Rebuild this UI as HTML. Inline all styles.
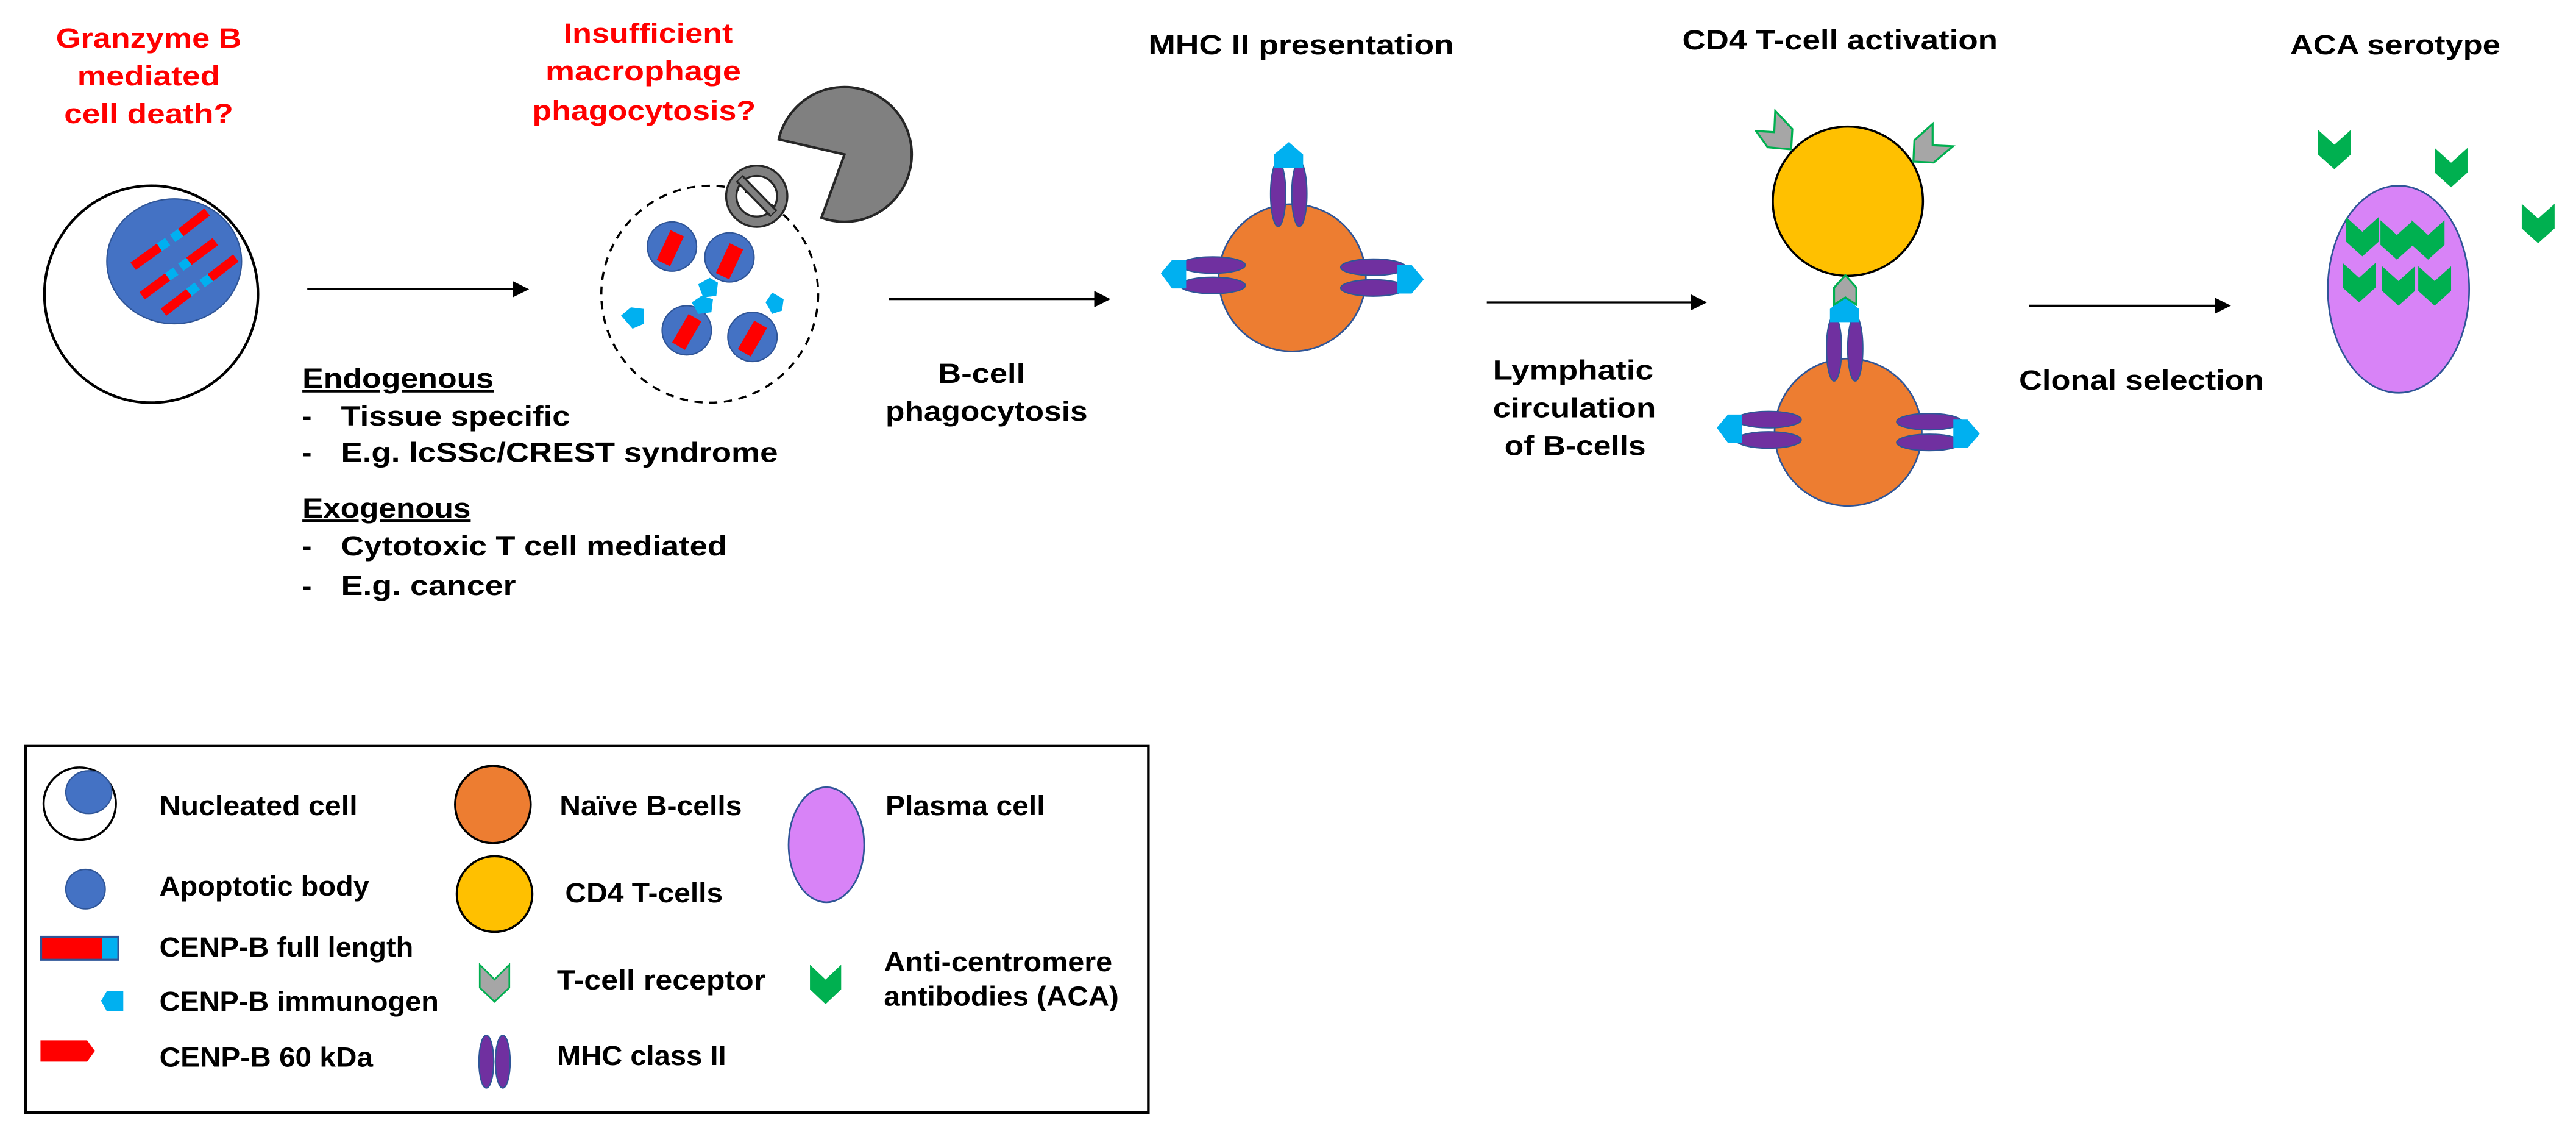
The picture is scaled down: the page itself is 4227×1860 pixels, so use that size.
<!DOCTYPE html>
<html><head><meta charset="utf-8"><style>
html,body{margin:0;padding:0;background:#fff;}
svg{display:block;}
text{font-family:"Liberation Sans",Arial,sans-serif;font-weight:bold;}
</style></head><body>
<svg width="4227" height="1860" viewBox="0 0 1568 690" xmlns="http://www.w3.org/2000/svg">
<defs>
<marker id="ah" markerWidth="10" markerHeight="10" refX="9" refY="5" orient="auto" markerUnits="userSpaceOnUse">
<path d="M0,0 L10,5 L0,10 Z" fill="#000"/></marker>
<g id="bcell">
<ellipse cx="786.6" cy="169" rx="44.8" ry="44.8" fill="#ed7d31" stroke="#2f5597" stroke-width="1"/>
<ellipse cx="778" cy="118" rx="4.6" ry="19.8" fill="#7030a0" stroke="#2f5597" stroke-width="0.8"/>
<ellipse cx="790.9" cy="118" rx="4.6" ry="19.8" fill="#7030a0" stroke="#2f5597" stroke-width="0.8"/>
<polygon points="784.5,86.5 793.2,94 793.2,102 775.5,102 775.5,94" fill="#00b0f0"/>
<ellipse cx="738.2" cy="161.3" rx="19.8" ry="5" fill="#7030a0" stroke="#2f5597" stroke-width="0.8"/>
<ellipse cx="738.2" cy="173.7" rx="19.8" ry="5" fill="#7030a0" stroke="#2f5597" stroke-width="0.8"/>
<polygon points="706.6,166.3 713.4,158.2 722,158.2 722,175.5 713.4,175.5" fill="#00b0f0"/>
<ellipse cx="835.9" cy="162.6" rx="19.8" ry="5" fill="#7030a0" stroke="#2f5597" stroke-width="0.8"/>
<ellipse cx="835.9" cy="175.2" rx="19.8" ry="5" fill="#7030a0" stroke="#2f5597" stroke-width="0.8"/>
<polygon points="850.6,161.3 859.3,161.3 866.7,170 859.3,178.6 850.6,178.6" fill="#00b0f0"/>
</g>
<polygon id="ab" points="0,0 10,9 20,0 20,15 10,24 0,15" fill="#00b050"/>
</defs>

<!-- Red titles -->
<g fill="#ff0000" font-size="17" text-anchor="middle">
<text x="90.5" y="29" textLength="113" lengthAdjust="spacingAndGlyphs">Granzyme B</text>
<text x="90.5" y="52" textLength="87" lengthAdjust="spacingAndGlyphs">mediated</text>
<text x="90.5" y="75" textLength="103" lengthAdjust="spacingAndGlyphs">cell death?</text>
<text x="394.5" y="26" textLength="103" lengthAdjust="spacingAndGlyphs">Insufficient</text>
<text x="391.5" y="49" textLength="119" lengthAdjust="spacingAndGlyphs">macrophage</text>
<text x="392" y="73" textLength="136" lengthAdjust="spacingAndGlyphs">phagocytosis?</text>
</g>

<!-- Nucleated cell -->
<ellipse cx="92" cy="179" rx="65" ry="66" fill="#fff" stroke="#000" stroke-width="1.6"/>
<ellipse cx="106" cy="159" rx="41" ry="38" fill="#4472c4" stroke="#2f5597" stroke-width="0.8"/>
<g stroke-width="5.5" stroke-linecap="butt">
<line x1="81" y1="162" x2="97" y2="150.5" stroke="#ff0000"/><line x1="97" y1="150.5" x2="102" y2="147" stroke="#00b0f0"/>
<line x1="105" y1="145" x2="110" y2="141.5" stroke="#00b0f0"/><line x1="110" y1="141.5" x2="126" y2="129" stroke="#ff0000"/>
<line x1="86.5" y1="180" x2="102" y2="168.5" stroke="#ff0000"/><line x1="102" y1="168.5" x2="107" y2="165" stroke="#00b0f0"/>
<line x1="110" y1="162.6" x2="115" y2="159" stroke="#00b0f0"/><line x1="115" y1="159" x2="131" y2="147" stroke="#ff0000"/>
<line x1="99.5" y1="190" x2="115" y2="178" stroke="#ff0000"/><line x1="115" y1="178" x2="120" y2="174" stroke="#00b0f0"/>
<line x1="123" y1="172.5" x2="128" y2="169" stroke="#00b0f0"/><line x1="128" y1="169" x2="143.5" y2="157" stroke="#ff0000"/>
</g>

<!-- Arrows -->
<g stroke="#000" stroke-width="1.2" marker-end="url(#ah)">
<line x1="187" y1="176" x2="321" y2="176"/>
<line x1="541" y1="182" x2="675" y2="182"/>
<line x1="905" y1="184" x2="1038" y2="184"/>
<line x1="1235" y1="186" x2="1357" y2="186"/>
</g>

<!-- Endogenous text -->
<g font-size="17" fill="#000">
<text x="184" y="236" text-decoration="underline" textLength="116.5" lengthAdjust="spacingAndGlyphs">Endogenous</text>
<text x="184" y="259">-</text><text x="207.5" y="259" textLength="139.5" lengthAdjust="spacingAndGlyphs">Tissue specific</text>
<text x="184" y="281">-</text><text x="207.5" y="281" textLength="266" lengthAdjust="spacingAndGlyphs">E.g. lcSSc/CREST syndrome</text>
<text x="184" y="315" text-decoration="underline" textLength="102.5" lengthAdjust="spacingAndGlyphs">Exogenous</text>
<text x="184" y="338">-</text><text x="207.5" y="338" textLength="235" lengthAdjust="spacingAndGlyphs">Cytotoxic T cell mediated</text>
<text x="184" y="362">-</text><text x="207.5" y="362" textLength="106.5" lengthAdjust="spacingAndGlyphs">E.g. cancer</text>
</g>

<!-- Apoptotic cluster -->
<ellipse cx="432" cy="179" rx="66" ry="66" fill="none" stroke="#000" stroke-width="1.3" stroke-dasharray="5,4"/>
<path d="M514,94 L474,84.8 A41,41 0 1 1 500,132.5 Z" fill="#808080" stroke="#262626" stroke-width="1.5"/>
<circle cx="460.6" cy="119.4" r="15.5" fill="none" stroke="#262626" stroke-width="7.5"/>
<circle cx="460.6" cy="119.4" r="15.5" fill="none" stroke="#808080" stroke-width="5"/>
<line x1="450" y1="108.5" x2="471" y2="130" stroke="#262626" stroke-width="6"/>
<line x1="450.5" y1="109" x2="470.5" y2="129.5" stroke="#808080" stroke-width="3.5"/>
<g fill="#4472c4" stroke="#2f5597" stroke-width="0.8">
<circle cx="409" cy="150" r="15"/><circle cx="444" cy="156.6" r="15"/>
<circle cx="418" cy="201" r="15"/><circle cx="458" cy="205" r="15"/>
</g>
<g fill="#ff0000">
<rect x="-4.5" y="-10" width="9" height="20" transform="translate(408,151) rotate(25)"/>
<rect x="-4.5" y="-10" width="9" height="20" transform="translate(444,159) rotate(25)"/>
<rect x="-4.5" y="-10" width="9" height="20" transform="translate(418,202) rotate(30)"/>
<rect x="-4.5" y="-10" width="9" height="20" transform="translate(458,206) rotate(30)"/>
</g>
<g fill="#00b0f0">
<polygon points="378,192 384,187 392,188 392,197 385,200"/>
<polygon points="425,173 432,169 437,172 436,180 428,181"/>
<polygon points="421,184 427,180 434,182 433,190 425,191"/>
<polygon points="466,184 470,178 477,182 476,189 470,191"/>
</g>

<g font-size="17" fill="#000">
<text x="571" y="233" textLength="53" lengthAdjust="spacingAndGlyphs">B-cell</text>
<text x="539" y="256" textLength="123" lengthAdjust="spacingAndGlyphs">phagocytosis</text>
<text x="908.7" y="231" textLength="97.7" lengthAdjust="spacingAndGlyphs">Lymphatic</text>
<text x="908.7" y="254" textLength="99.3" lengthAdjust="spacingAndGlyphs">circulation</text>
<text x="915.8" y="277" textLength="86" lengthAdjust="spacingAndGlyphs">of B-cells</text>
<text x="1229" y="237" textLength="149" lengthAdjust="spacingAndGlyphs">Clonal selection</text>
</g>

<!-- MHC II presentation -->
<text x="792" y="33" font-size="17" text-anchor="middle" textLength="186" lengthAdjust="spacingAndGlyphs">MHC II presentation</text>
<use href="#bcell"/>

<!-- CD4 activation -->
<text x="1120" y="30" font-size="17" text-anchor="middle" textLength="192" lengthAdjust="spacingAndGlyphs">CD4 T-cell activation</text>
<use href="#bcell" transform="translate(338.4,94)"/>
<ellipse cx="1124.8" cy="122.4" rx="45.7" ry="45.4" fill="#ffc000" stroke="#000" stroke-width="1.3"/>
<g fill="#a6a6a6" stroke="#00b050" stroke-width="1.2">
<polygon points="1080.6,67.4 1091,78.5 1090.3,90.9 1076,89.6 1068.9,79.7 1080,80.4"/>
<polygon points="1176.4,75.4 1176.4,88.4 1188.8,89 1177,98.9 1164.7,98.3 1165.3,85.3"/>
<polygon points="1123.3,167.5 1130,175 1130,185.4 1123.3,181 1116.4,185.4 1116.4,175"/>
</g>

<!-- ACA serotype -->
<text x="1458" y="33" font-size="17" text-anchor="middle" textLength="128" lengthAdjust="spacingAndGlyphs">ACA serotype</text>
<ellipse cx="1460" cy="176" rx="43" ry="63" fill="#d883f7" stroke="#2f5597" stroke-width="1"/>
<use href="#ab" transform="translate(1411,79)"/>
<use href="#ab" transform="translate(1482,90)"/>
<use href="#ab" transform="translate(1535,124)"/>
<use href="#ab" transform="translate(1428,132)"/>
<use href="#ab" transform="translate(1449,134)"/>
<use href="#ab" transform="translate(1468,134)"/>
<use href="#ab" transform="translate(1426,160)"/>
<use href="#ab" transform="translate(1450,162)"/>
<use href="#ab" transform="translate(1472,162)"/>

<!-- Legend -->
<rect x="15.6" y="454" width="683.4" height="223" fill="#fff" stroke="#000" stroke-width="1.6"/>
<ellipse cx="48.5" cy="489" rx="22" ry="22" fill="#fff" stroke="#000" stroke-width="1.3"/>
<ellipse cx="54" cy="482" rx="14" ry="13" fill="#4472c4" stroke="#2f5597" stroke-width="0.8"/>
<ellipse cx="52" cy="541" rx="12" ry="12" fill="#4472c4" stroke="#2f5597" stroke-width="0.8"/>
<rect x="25" y="570" width="47" height="14" fill="#ff0000" stroke="#2f5597" stroke-width="1.2"/>
<rect x="62" y="570.6" width="9.4" height="12.8" fill="#00b0f0"/>
<polygon points="61.5,609 65,603 75,603 75,615.4 65,615.4" fill="#00b0f0"/>
<polygon points="24.6,633 53,633 57.7,639.5 53,646 24.6,646" fill="#ff0000"/>
<ellipse cx="300" cy="489.5" rx="23" ry="23.5" fill="#ed7d31" stroke="#000" stroke-width="1.3"/>
<ellipse cx="301" cy="544" rx="23" ry="23" fill="#ffc000" stroke="#000" stroke-width="1.3"/>
<polygon points="292,587 301,596 310,587 310,601 301,609.5 292,601" fill="#a6a6a6" stroke="#00b050" stroke-width="1"/>
<ellipse cx="296" cy="646" rx="4.5" ry="16" fill="#7030a0" stroke="#2f5597" stroke-width="0.8"/>
<ellipse cx="306" cy="646" rx="4.5" ry="16" fill="#7030a0" stroke="#2f5597" stroke-width="0.8"/>
<ellipse cx="503" cy="514" rx="23" ry="35" fill="#d883f7" stroke="#2f5597" stroke-width="1"/>
<polygon points="493,587 502.5,596 512,587 512,602 502.5,611 493,602" fill="#00b050"/>
<g font-size="17" fill="#000">
<text x="97" y="496" textLength="120.6" lengthAdjust="spacingAndGlyphs">Nucleated cell</text>
<text x="97" y="545" textLength="127.7" lengthAdjust="spacingAndGlyphs">Apoptotic body</text>
<text x="97" y="582" textLength="154.6" lengthAdjust="spacingAndGlyphs">CENP-B full length</text>
<text x="97" y="615" textLength="170" lengthAdjust="spacingAndGlyphs">CENP-B immunogen</text>
<text x="97" y="649" textLength="130" lengthAdjust="spacingAndGlyphs">CENP-B 60 kDa</text>
<text x="340.6" y="496" textLength="111" lengthAdjust="spacingAndGlyphs">Naïve B-cells</text>
<text x="344" y="549" textLength="96" lengthAdjust="spacingAndGlyphs">CD4 T-cells</text>
<text x="339" y="602" textLength="127" lengthAdjust="spacingAndGlyphs">T-cell receptor</text>
<text x="339" y="648" textLength="103" lengthAdjust="spacingAndGlyphs">MHC class II</text>
<text x="539" y="496" textLength="97" lengthAdjust="spacingAndGlyphs">Plasma cell</text>
<text x="538" y="591" textLength="139" lengthAdjust="spacingAndGlyphs">Anti-centromere</text>
<text x="538" y="612" textLength="143" lengthAdjust="spacingAndGlyphs">antibodies (ACA)</text>
</g>
</svg>
</body></html>
